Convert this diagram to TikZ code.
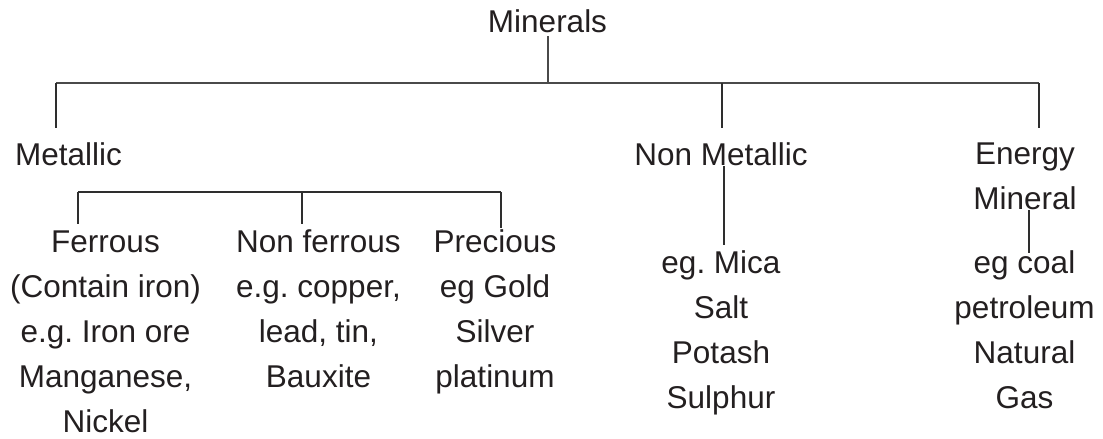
\documentclass[tikz,border=0pt]{standalone}
\usepackage{fontspec}
\setmainfont{Liberation Sans}
\definecolor{txt}{HTML}{231F20}
\definecolor{lnmain}{HTML}{4A4A4A}
\definecolor{lnsub}{HTML}{2E2E2E}
\begin{document}
\frenchspacing
\begin{tikzpicture}[x=1pt,y=-1pt,
  lbl/.style={font=\fontsize{31.5}{45}\selectfont\frenchspacing, text=txt, inner sep=0pt, align=center, anchor=base},
  mainln/.style={draw=lnmain, line width=1.8pt},
  subln/.style={draw=lnsub, line width=1.1pt}]
\useasboundingbox (0,0) rectangle (1103,439);
% nodes (base anchor = baseline of last line)
\node[lbl] (min) at (547.5,32) {Minerals};
\node[lbl, anchor=base west] (met) at (15,165) {Metallic};
\node[lbl] (nonmet) at (721,165) {Non Metallic};
\node[lbl] (energy) at (1025,209) {Energy\\Mineral};
\node[lbl] (fer) at (105.5,432) {Ferrous\\(Contain iron)\\e.g. Iron ore\\Manganese,\\Nickel};
\node[lbl] (nonfer) at (318.5,387) {Non ferrous\\e.g. copper,\\lead, tin,\\Bauxite};
\node[lbl] (prec) at (495,387) {Precious\\eg Gold\\Silver\\platinum};
\node[lbl] (mica) at (721,408) {eg. Mica\\Salt\\Potash\\Sulphur};
\node[lbl] (coal) at (1024.5,408) {eg coal\\petroleum\\Natural\\Gas};
% junction coordinates
\coordinate (rootTop) at (548,36);
\coordinate (rootJ) at (548,83);
\coordinate (metJ) at (56,83);
\coordinate (metEnd) at (56,128);
\coordinate (nmJ) at (722,83);
\coordinate (nmEnd) at (722,128);
\coordinate (enJ) at (1039,83);
\coordinate (enEnd) at (1039,128);
\coordinate (nmLowTop) at (724,166);
\coordinate (nmLowEnd) at (724,245);
\coordinate (enLowTop) at (1029,210);
\coordinate (enLowEnd) at (1029,253);
\coordinate (ferJ) at (78,192);
\coordinate (ferEnd) at (78,224);
\coordinate (nfJ) at (302,192);
\coordinate (nfEnd) at (302,224);
\coordinate (prJ) at (501,192);
\coordinate (prEnd) at (501,228);
% connectors
\draw[mainln] (rootTop) -- (rootJ);
\draw[mainln] (metJ) -- (enJ);
\draw[subln] (metJ) -- (metEnd);
\draw[subln] (nmJ) -- (nmEnd);
\draw[subln] (enJ) -- (enEnd);
\draw[subln] (nmLowTop) -- (nmLowEnd);
\draw[subln] (enLowTop) -- (enLowEnd);
\draw[subln] (ferJ) -- (prJ);
\draw[subln] (ferJ) -- (ferEnd);
\draw[subln] (nfJ) -- (nfEnd);
\draw[subln] (prJ) -- (prEnd);
\end{tikzpicture}
\end{document}
